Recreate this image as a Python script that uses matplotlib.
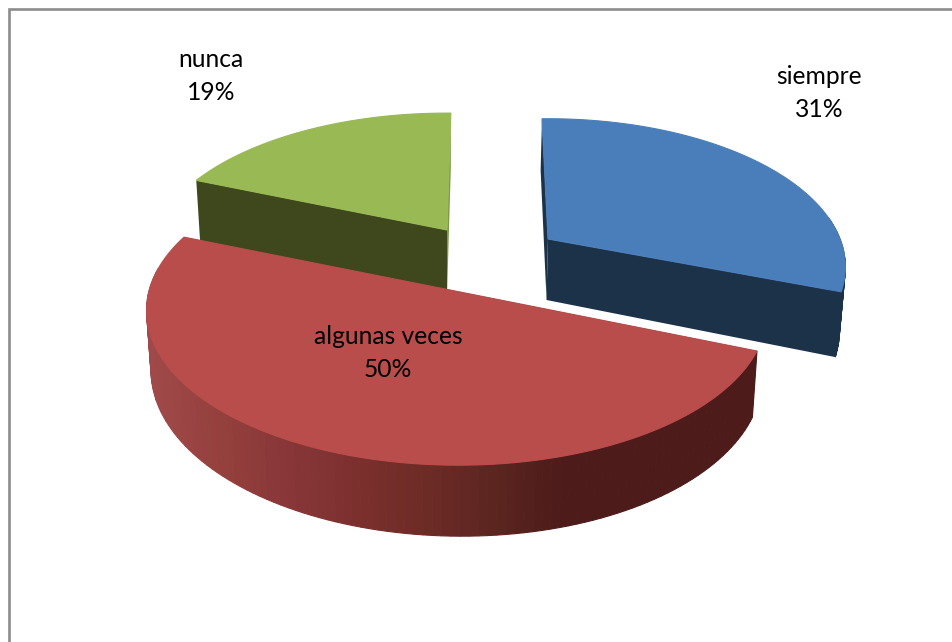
################################################################################
import numpy as np;
import matplotlib;
matplotlib.use("Agg");
import matplotlib.pyplot as plt;
from matplotlib.colors import to_rgb;
################################################################################
# data
categories = ['siempre', 'algunas veces', 'nunca'];
percents = [31, 50, 19];
################################################################################
# styles, pixel units of the picture
styles = {
    'siempre': {
        'apex': (548, 239), 'start': -1.4, 'R': 292, 'S': 143, 'k': 0.189, 'j': 0.0, 'depth': 61,
        'top': '#4A7EBB', 'rim': '#1C3249', 'cut_start': '#1C3249', 'cut_end': '#1C3249',
        'label': (819, 93),
    },
    'algunas veces': {
        'apex': (447.5, 289.5), 'start': 112, 'R': 307, 'S': 151, 'k': 0.14, 'j': -0.03, 'depth': 61,
        'top': '#B94D4B', 'rim': None, 'cut_start': '#4D1B19', 'cut_end': '#4D1B19',
        'label': (388, 353),
    },
    'nunca': {
        'apex': (447, 230), 'start': 292.5, 'R': 291, 'S': 139, 'k': 0.189, 'j': 0.0, 'depth': 65,
        'top': '#98B954', 'rim': '#3F471C', 'cut_start': '#3F471C', 'cut_end': '#7E9A46',
        'label': (211, 76),
    },
};
shrink = 0.985;
# shading of the red rim, left to right
shade_x = [150, 220, 270, 350, 430, 500, 560];
shade_c = ['#A0494A', '#94403C', '#8B383A', '#7D302F', '#6C2B26', '#5A241F', '#4D1B1A'];
shade_rgb = np.array([to_rgb(c) for c in shade_c]);
################################################################################
def project(theta, st):
    th = np.radians(theta);
    u, v = np.sin(th), np.cos(th);
    w = 1 + st['k']*v + st['j']*u;
    return st['apex'][0] + st['R']*u/w, st['apex'][1] - st['S']*v/w, w;

def drop(x, y, w, st):
    # same point at the bottom of the slab
    return 450 + (x-450)*shrink, y + st['depth']/w;

def cut_face(theta, st):
    x, y, w = project(theta, st);
    ax0, ay0 = st['apex'];
    xb, yb = drop(x, y, w, st);
    ax1, ay1 = drop(ax0, ay0, 1.0, st);
    return [(ax0, ay0), (x, y), (xb, yb), (ax1, ay1)];

def rim_colour(x):
    return [np.interp(x, shade_x, shade_rgb[:, i]) for i in range(3)];
################################################################################
# plot
fig = plt.figure(figsize=(9.52, 6.42), dpi=100);
ax = fig.add_axes([0, 0, 1, 1]);
ax.set_xlim(0, 952);
ax.set_ylim(642, 0);
ax.axis('off');

# chart frame, runs off the picture on the right and at the bottom
ax.plot([8.5, 8.5, 952], [642, 9, 9], color='#8C8C8C', lw=1.9, solid_joinstyle='miter', zorder=1);

for name in ['nunca', 'siempre', 'algunas veces']:
    st = styles[name];
    sweep = 360.0*percents[categories.index(name)]/sum(percents);
    a0, a1 = st['start'], st['start']+sweep;
    # far cut face first
    ax.fill(*zip(*cut_face(a1, st)), color=st['cut_end'], lw=0, zorder=2);
    # rim, in short strips, back of the rim is hidden so skip it
    edges = np.arange(a0, a1+1.5, 1.5);
    edges[-1] = a1;
    for e0, e1 in zip(edges[:-1], edges[1:]):
        if np.cos(np.radians((e0+e1)/2)) > 0.15:
            continue;
        x0, y0, w0 = project(e0, st);
        x1, y1, w1 = project(e1, st);
        xb0, yb0 = drop(x0, y0, w0, st);
        xb1, yb1 = drop(x1, y1, w1, st);
        c = st['rim'] if st['rim'] else rim_colour((x0+x1)/2);
        ax.fill([x0, x1, xb1, xb0], [y0, y1, yb1, yb0], color=c, lw=0.8, zorder=2);
    ax.fill(*zip(*cut_face(a0, st)), color=st['cut_start'], lw=0, zorder=2);
    # top of the slice
    ths = np.linspace(a0, a1, 200);
    xs, ys, _ = project(ths, st);
    ax.fill(
        np.r_[st['apex'][0], xs],
        np.r_[st['apex'][1], ys],
        color=st['top'], lw=0.8, zorder=2,
    );

for name, pct in zip(categories, percents):
    lx, ly = styles[name]['label'];
    ax.text(lx, ly, name + "\n" + str(pct) + "%",
        ha='center', va='center', family='Lato', fontsize=17.7, color='#000000',
        linespacing=1.5, zorder=3,
    );

plt.savefig("out.png", dpi=100);
plt.close();
